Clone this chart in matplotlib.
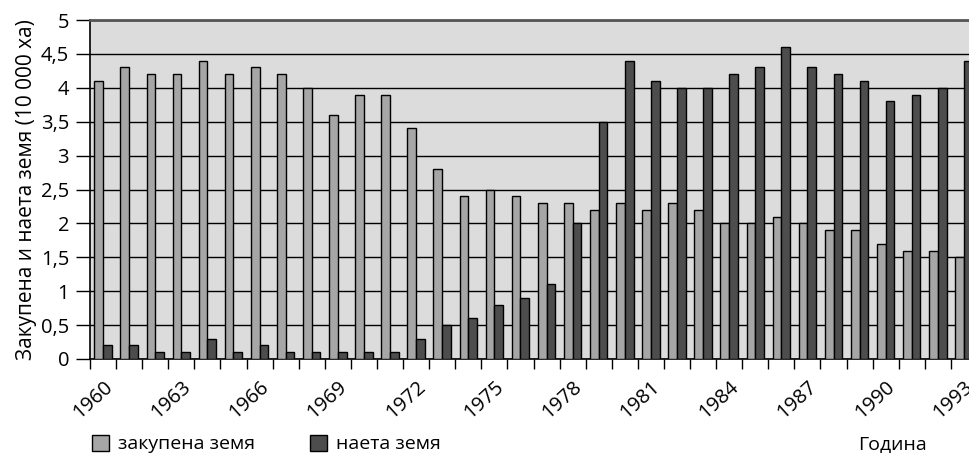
import numpy as np
import matplotlib
matplotlib.use("Agg")
import matplotlib.pyplot as plt
from matplotlib.patches import Patch

plt.rcParams['font.family'] = ['Open Sans', 'DejaVu Sans']

# ----------------------------------------
# Data (10 000 ha)
# ----------------------------------------
years = list(range(1960, 1994))
bought = [4.1, 4.3, 4.2, 4.2, 4.4, 4.2, 4.3, 4.2, 4.0, 3.6,
          3.9, 3.9, 3.4, 2.8, 2.4, 2.5, 2.4, 2.3, 2.3, 2.2,
          2.3, 2.2, 2.3, 2.2, 2.0, 2.0, 2.1, 2.0, 1.9, 1.9,
          1.7, 1.6, 1.6, 1.5]
rented = [0.2, 0.2, 0.1, 0.1, 0.3, 0.1, 0.2, 0.1, 0.1, 0.1,
          0.1, 0.1, 0.3, 0.5, 0.6, 0.8, 0.9, 1.1, 2.0, 3.5,
          4.4, 4.1, 4.0, 4.0, 4.2, 4.3, 4.6, 4.3, 4.2, 4.1,
          3.8, 3.9, 4.0, 4.4]
series_labels = ['закупена земя', 'наета земя']
y_ticks = [0, 0.5, 1, 1.5, 2, 2.5, 3, 3.5, 4, 4.5, 5]

light = '#a6a6a6'
dark = '#4d4d4d'
fs = 14

# ----------------------------------------
# Figure
# ----------------------------------------
fig = plt.figure(figsize=(9.7, 4.53), dpi=100)
# plot area runs past the right edge, like the original
ax = fig.add_axes([90 / 970, 94 / 453, 887 / 970, 339 / 453])
ax.set_facecolor('#dcdcdc')

x = np.arange(len(years))
w = 1 / 3
ax.bar(x - w / 2, bought, width=w, color=light, edgecolor='black', linewidth=1, zorder=3)
ax.bar(x + w / 2, rented, width=w, color=dark, edgecolor='black', linewidth=1, zorder=3)

ax.set_xlim(-0.5, len(years) - 0.5)
ax.set_ylim(0, 5)

# y axis
ax.set_yticks(y_ticks)
ax.set_yticklabels([f"{v:g}".replace('.', ',') for v in y_ticks], fontsize=14.5)
ax.tick_params(axis='y', direction='out', length=10, width=1, pad=5, color='black')
ax.yaxis.grid(True, color='black', linewidth=1)
ax.set_axisbelow(True)
ax.set_ylabel('Закупена и наета земя (10 000 ха)', fontsize=15, labelpad=3)

# x axis: ticks between categories, labels every third year
ax.set_xticks(np.arange(-0.5, len(years), 1))
ax.set_xticklabels([])
ax.tick_params(axis='x', which='major', direction='out', length=7, width=1, color='black')
lab_pos = x[::3]
ax.set_xticks(lab_pos, [str(years[i]) for i in lab_pos], minor=True)
ax.tick_params(axis='x', which='minor', length=0, pad=13)
for t in ax.get_xticklabels(minor=True):
    t.set_rotation(42)
    t.set_ha('right')
    t.set_va('top')
    t.set_rotation_mode('anchor')
    t.set_fontsize(14.5)

for s in ['left', 'bottom']:
    ax.spines[s].set_color('black')
    ax.spines[s].set_linewidth(1.2)
ax.spines['top'].set_color('#555555')
ax.spines['top'].set_linewidth(2)
ax.spines['right'].set_visible(False)

# legend and axis title at the bottom
handles = [Patch(facecolor=light, edgecolor='black'), Patch(facecolor=dark, edgecolor='black')]
fig.legend(handles, series_labels, ncol=2, loc='center left',
           bbox_to_anchor=(92 / 970, 1 - 444 / 453), frameon=False,
           fontsize=fs, handlelength=0.9, handleheight=0.9,
           handletextpad=0.45, columnspacing=2.8, borderaxespad=0, borderpad=0)
fig.text(858 / 970, 1 - 444 / 453, 'Година', fontsize=fs, ha='left', va='center')

plt.savefig("out.png", dpi=100)
